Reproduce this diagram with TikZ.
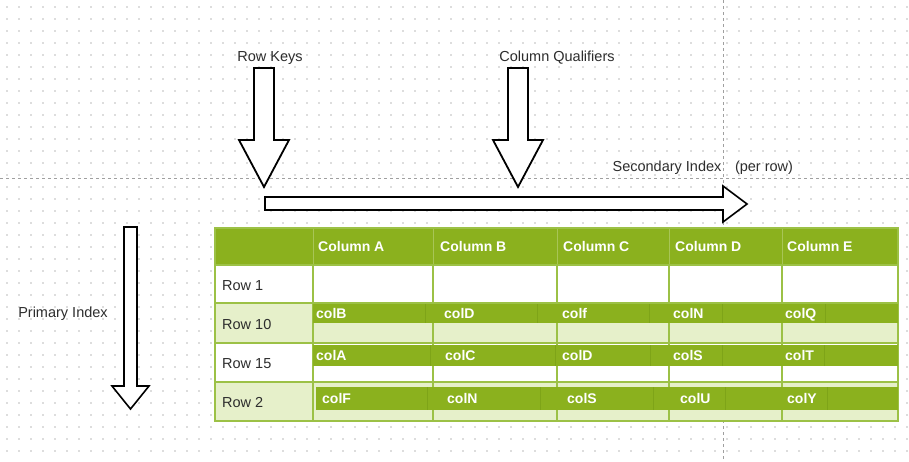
\documentclass[tikz,border=0pt]{standalone}
\usepackage{fontspec}
\setmainfont{Liberation Sans}
\definecolor{hdrgreen}{RGB}{139,177,30}
\definecolor{lightgreen}{RGB}{230,240,202}
\definecolor{cellline}{RGB}{156,193,70}
\definecolor{banddiv}{RGB}{126,164,24}
\definecolor{gridgray}{RGB}{188,188,188}
\definecolor{labelgray}{RGB}{45,45,45}
\begin{document}
\begin{tikzpicture}[x=1pt,y=-1pt,
  lbl/.style={font=\fontsize{14.5}{16}\selectfont, text=labelgray, inner sep=0pt},
  rowlbl/.style={lbl, anchor=mid west},
  hdr/.style={font=\bfseries\fontsize{14}{16}\selectfont, text=white, anchor=mid west, inner sep=0pt},
  bandtxt/.style={font=\bfseries\fontsize{14}{16}\selectfont, text=white, anchor=mid west, inner sep=0pt},
  blockarrow/.style={draw=black, fill=white, line width=1.8pt, line join=miter},
  guide/.style={draw=gray!75, dash pattern=on 3pt off 3pt, line width=0.8pt},
  cellrule/.style={draw=cellline, line width=1.4pt},
  banddivider/.style={draw=banddiv, line width=0.7pt},
]
\useasboundingbox (0,0) rectangle (909,461);
\fill[white] (0,0) rectangle (909,461);

% dotted background grid
\foreach \i in {0,...,75} {
  \foreach \j in {0,...,37} {
    \fill[gridgray] (7+12*\i, 7+12*\j) circle (0.85);
  }
}

% guide lines
\draw[guide] (0,178) -- (909,178);
\draw[guide] (723,0) -- (723,461);

% ---- table ----
% header row
\fill[hdrgreen] (215,228) rectangle (898,265);
\foreach \x in {313,433,557,669,782}
  \draw[hdrgreen!75!white, line width=0.8pt] (\x,228) -- (\x,265);

% row backgrounds
\fill[white]      (215,265) rectangle (898,303);
\fill[lightgreen] (215,303) rectangle (898,343);
\fill[white]      (215,343) rectangle (898,382);
\fill[lightgreen] (215,382) rectangle (898,421);

% cell rules
\foreach \y in {265,303,343,382}
  \draw[cellrule] (215,\y) -- (898,\y);
\foreach \x in {313,433,557,669,782}
  \draw[cellrule] (\x,265) -- (\x,421);
\draw[cellrule] (215,228) rectangle (898,421);

% green bands holding the column names
\fill[hdrgreen] (313,304) rectangle (898,323);
\fill[hdrgreen] (313,345) rectangle (898,366);
\fill[hdrgreen] (316,387) rectangle (898,410);
\foreach \x in {425,537,649,722,825}
  \draw[banddivider] (\x,304) -- (\x,323);
\foreach \x in {430,555,650,722,824}
  \draw[banddivider] (\x,345) -- (\x,366);
\foreach \x in {427,540,653,725,827}
  \draw[banddivider] (\x,387) -- (\x,410);

% header texts
\node[hdr] (hA) at (318,248.5) {Column A};
\node[hdr] (hB) at (440,248.5) {Column B};
\node[hdr] (hC) at (563,248.5) {Column C};
\node[hdr] (hD) at (675,248.5) {Column D};
\node[hdr] (hE) at (787,248.5) {Column E};

% row labels
\node[rowlbl] (r1)  at (222,287.5) {Row 1};
\node[rowlbl] (r10) at (222,326.5) {Row 10};
\node[rowlbl] (r15) at (222,365.5) {Row 15};
\node[rowlbl] (r2)  at (222,404.5) {Row 2};

% column names per row
\node[bandtxt] (b10a) at (316,316) {colB};
\node[bandtxt] (b10b) at (444,316) {colD};
\node[bandtxt] (b10c) at (562,316) {colf};
\node[bandtxt] (b10d) at (673,316) {colN};
\node[bandtxt] (b10e) at (785,316) {colQ};

\node[bandtxt] (b15a) at (316,358) {colA};
\node[bandtxt] (b15b) at (445,358) {colC};
\node[bandtxt] (b15c) at (562,358) {colD};
\node[bandtxt] (b15d) at (673,358) {colS};
\node[bandtxt] (b15e) at (785,358) {colT};

\node[bandtxt] (b2a) at (322,401) {colF};
\node[bandtxt] (b2b) at (447,401) {colN};
\node[bandtxt] (b2c) at (567,401) {colS};
\node[bandtxt] (b2d) at (680,401) {colU};
\node[bandtxt] (b2e) at (787,401) {colY};

% ---- block arrows ----
% row keys
\draw[blockarrow] (254,68) -- (274,68) -- (274,140) -- (289,140) -- (264,187)
  -- (239,140) -- (254,140) -- cycle;
% column qualifiers
\draw[blockarrow] (508,68) -- (528,68) -- (528,140) -- (543,140) -- (518,187)
  -- (493,140) -- (508,140) -- cycle;
% secondary index (horizontal)
\draw[blockarrow, line width=1.6pt] (265,197) -- (723,197) -- (723,186) -- (747,204)
  -- (723,222) -- (723,210) -- (265,210) -- cycle;
% primary index (vertical)
\draw[blockarrow, line width=1.6pt] (124,227) -- (137,227) -- (137,386) -- (149,386)
  -- (130.5,409) -- (112,386) -- (124,386) -- cycle;

% arrow captions
\node[lbl] (rowkeys) at (270,58) {Row Keys};
\node[lbl] (colqual) at (557,58) {Column Qualifiers};
\node[lbl] (secidx)  at (667,168) {Secondary Index};
\node[lbl] (perrow)  at (764,168) {(per row)};
\node[lbl] (primidx) at (63,314) {Primary Index};
\end{tikzpicture}
\end{document}
